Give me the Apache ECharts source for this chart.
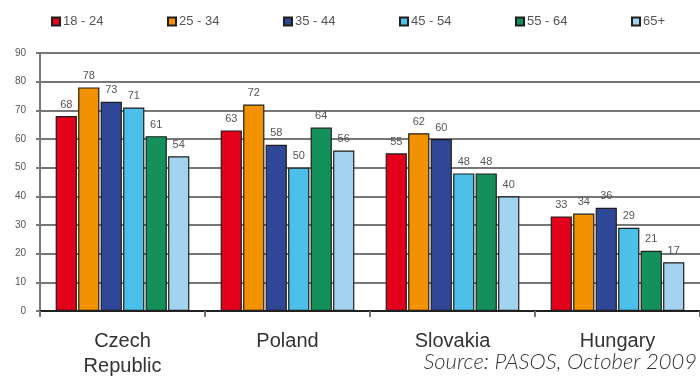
<!DOCTYPE html>
<html>
<head>
<meta charset="utf-8">
<script src="https://cdn.jsdelivr.net/npm/echarts@6/dist/echarts.min.js"></script>
<style>
  html, body { margin: 0; padding: 0; background: #ffffff; }
  #chart { width: 700px; height: 379px; }
</style>
</head>
<body>
<div id="chart"></div>
<script>
// Countries along the x axis
const countries = ['Czech\nRepublic', 'Poland', 'Slovakia', 'Hungary'];

// Age groups (one series each)
const ageGroups = ['18 - 24', '25 - 34', '35 - 44', '45 - 54', '55 - 64', '65+'];

// Values per age group, in country order
const age18to24 = [68, 63, 55, 33];
const age25to34 = [78, 72, 62, 34];
const age35to44 = [73, 58, 60, 36];
const age45to54 = [71, 50, 48, 29];
const age55to64 = [61, 64, 48, 21];
const age65plus = [54, 56, 40, 17];

// Y axis range
const yMin = 0;
const yMax = 90;
const yStep = 10;

const sourceNote = 'Source: PASOS, October 2009';

const seriesValues = [age18to24, age25to34, age35to44, age45to54, age55to64, age65plus];
const palette = ['#e2001a', '#f39200', '#2f4796', '#4dc0ea', '#14915a', '#a4d3ef'];

// Legend entries sit in evenly spaced slots across the top
const legendLeft = 51;
const legendSlot = 116;

const chart = echarts.init(document.getElementById('chart'), null, { renderer: 'canvas' });

const series = ageGroups.map((name, i) => ({
  name: name,
  type: 'bar',
  data: seriesValues[i],
  barGap: '6%',
  barCategoryGap: '19%',
  itemStyle: {
    color: palette[i],
    borderColor: '#1e1e1e',
    borderWidth: 1.2
  },
  label: {
    show: true,
    position: 'top',
    distance: 6,
    color: '#555',
    fontSize: 11,
    fontFamily: 'Liberation Sans, Arial, sans-serif'
  },
  emphasis: { disabled: true }
}));

const legends = ageGroups.map((name, i) => ({
  data: [name],
  left: legendLeft + i * legendSlot,
  top: 15,
  icon: 'rect',
  itemWidth: 8,
  itemHeight: 8,
  itemGap: 0,
  padding: 0,
  textStyle: {
    color: '#555',
    fontSize: 13,
    fontFamily: 'Liberation Sans, Arial, sans-serif',
    padding: [0, 0, 0, -2]
  }
}));

chart.setOption({
  animation: false,
  backgroundColor: '#ffffff',
  grid: { left: 40, right: 0, top: 53, bottom: 66, containLabel: false },
  legend: legends,
  xAxis: {
    type: 'category',
    data: countries,
    axisLine: { lineStyle: { color: '#222', width: 2 } },
    axisTick: { show: true, length: 6, lineStyle: { color: '#777', width: 2 } },
    axisLabel: {
      color: '#333',
      fontSize: 20,
      lineHeight: 25,
      margin: 18,
      fontFamily: 'Liberation Sans, Arial, sans-serif',
      interval: 0
    },
    splitLine: { show: false }
  },
  yAxis: {
    type: 'value',
    min: yMin,
    max: yMax,
    interval: yStep,
    axisLine: { show: true, lineStyle: { color: '#777', width: 2 } },
    axisTick: { show: true, length: 4, lineStyle: { color: '#777', width: 2 } },
    axisLabel: {
      color: '#555',
      fontSize: 10,
      margin: 14,
      fontFamily: 'Liberation Sans, Arial, sans-serif'
    },
    splitLine: { show: true, lineStyle: { color: '#777', width: 2 } }
  },
  graphic: [{
    type: 'text',
    right: 3,
    top: 351,
    style: {
      text: sourceNote,
      fill: '#333',
      font: 'italic 300 22px Lato, "Open Sans", sans-serif'
    }
  }],
  series: series
});
</script>
</body>
</html>
